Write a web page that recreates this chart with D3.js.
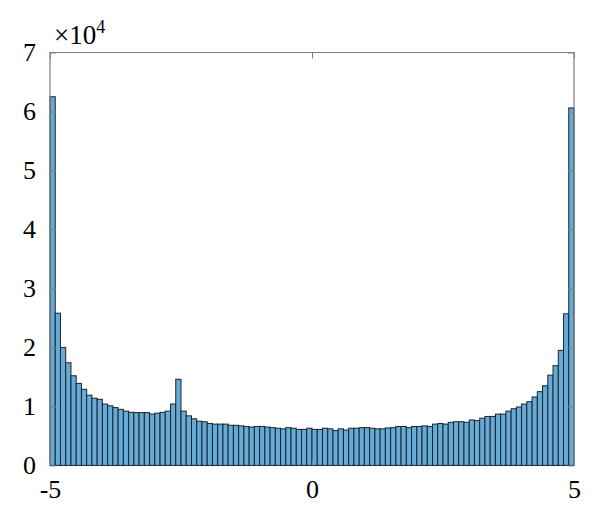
<!DOCTYPE html>
<html>
<head>
<meta charset="utf-8">
<script src="https://cdn.jsdelivr.net/npm/d3@7"></script>
<style>
  html, body { margin: 0; padding: 0; background: #fff; }
  svg { display: block; }
</style>
</head>
<body>
<svg id="chart" width="600" height="522"></svg>
<script>
// ---- data ----
const binStart = -5;
const binWidth = 0.1;
const counts = [
  62500, 25800, 20000, 17400, 15200, 13900, 12900, 11900, 11400, 11200,
  10400, 10100, 9800, 9500, 9200, 9000, 8950, 8950, 8950, 8700,
  8850, 9000, 9200, 10400, 14600, 9200, 8400, 7900, 7500, 7400,
  7100, 7000, 7000, 7000, 6800, 6800, 6700, 6600, 6500, 6600,
  6600, 6500, 6400, 6300, 6200, 6400, 6300, 6100, 6100, 6300,
  6100, 6100, 6300, 6200, 5900, 6200, 6000, 6300, 6300, 6400,
  6400, 6300, 6200, 6200, 6350, 6400, 6600, 6600, 6400, 6600,
  6600, 6700, 6600, 7000, 7100, 7000, 7300, 7400, 7400, 7300,
  7700, 7600, 8000, 8300, 8300, 8700, 8700, 9200, 9600, 9900,
  10400, 10800, 11600, 12500, 13500, 15300, 16900, 19500, 25700, 60600
];
const xTicks = [-5, 0, 5];
const yTicks = [0, 10000, 20000, 30000, 40000, 50000, 60000, 70000];
const yTickLabels = ["0", "1", "2", "3", "4", "5", "6", "7"];
const exponentBase = "\u00D710";
const exponentPower = "4";

// ---- layout ----
const svg = d3.select("#chart");
const L = 50, R = 574, T = 52.5, B = 465.4;
const x = d3.scaleLinear().domain([-5, 5]).range([L, R]);
const y = d3.scaleLinear().domain([0, 70000]).range([B, T]);
const font = "'Liberation Serif', 'Times New Roman', serif";
const boxColor = "#7f7f7f";

const bins = counts.map((c, i) => ({
  x0: binStart + i * binWidth,
  x1: binStart + (i + 1) * binWidth,
  c
}));

// bars
svg.append("g")
  .selectAll("rect")
  .data(bins)
  .join("rect")
  .attr("x", d => x(d.x0))
  .attr("y", d => y(d.c))
  .attr("width", d => x(d.x1) - x(d.x0))
  .attr("height", d => y(0) - y(d.c))
  .attr("fill", "#66aad7")
  .attr("stroke", "#1a242c")
  .attr("stroke-width", 1);

// axes
function styleAxis(g, showText) {
  g.select(".domain").remove();
  g.selectAll(".tick line").attr("stroke", boxColor).attr("stroke-width", 1);
  g.selectAll(".tick text")
    .attr("fill", "#000")
    .style("font-family", font)
    .style("font-size", "26px");
  if (!showText) g.selectAll(".tick text").remove();
}

svg.append("g")
  .attr("transform", `translate(${L},0)`)
  .call(d3.axisLeft(y).tickValues(yTicks).tickSize(-6).tickPadding(14)
    .tickFormat((d, i) => yTickLabels[i]))
  .call(g => styleAxis(g, true));

svg.append("g")
  .attr("transform", `translate(${R},0)`)
  .call(d3.axisRight(y).tickValues(yTicks).tickSize(-6))
  .call(g => styleAxis(g, false));

svg.append("g")
  .attr("transform", `translate(0,${B})`)
  .call(d3.axisBottom(x).tickValues(xTicks).tickSize(-6).tickPadding(14)
    .tickFormat(d => d < 0 ? "-" + Math.abs(d) : String(d)))
  .call(g => styleAxis(g, true));

svg.append("g")
  .attr("transform", `translate(0,${T})`)
  .call(d3.axisTop(x).tickValues(xTicks).tickSize(-6))
  .call(g => styleAxis(g, false));

// box
svg.append("path")
  .attr("d", `M${L},${B}V${T}H${R}V${B}`)
  .attr("fill", "none")
  .attr("stroke", boxColor)
  .attr("stroke-width", 1.2);

// exponent label
const ex = svg.append("text")
  .attr("x", 54)
  .attr("y", 44)
  .style("font-family", font)
  .style("font-size", "27px")
  .attr("fill", "#000");
ex.append("tspan").text(exponentBase);
ex.append("tspan").attr("dy", -11).style("font-size", "18px").text(exponentPower);
</script>
</body>
</html>
